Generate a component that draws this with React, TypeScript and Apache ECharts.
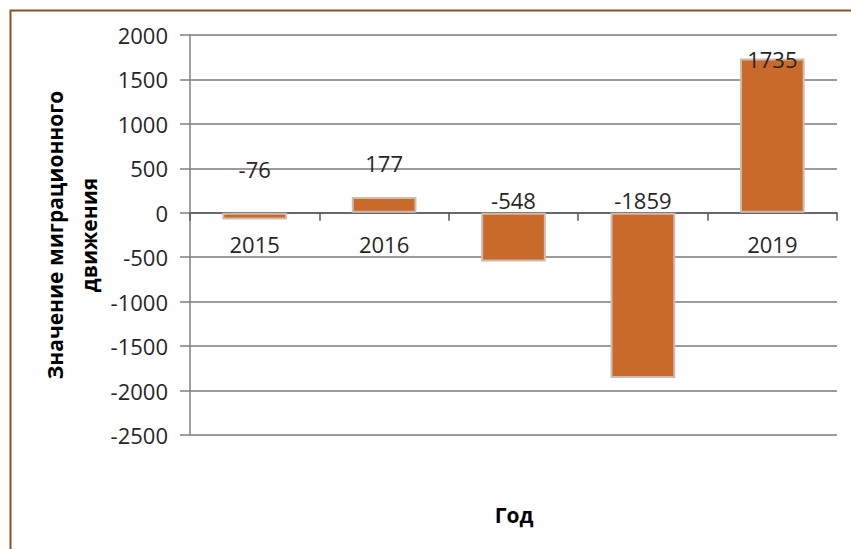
import React, { useEffect, useRef } from "react";
import * as echarts from "echarts";

const years = ["2015", "2016", "2017", "2018", "2019"];
const migration = [-76, 177, -548, -1859, 1735];
const yMin = -2500;
const yMax = 2000;
const yStep = 500;

const yTitle = "Значение миграционного\nдвижения";
const xTitle = "Год";

// label vertical nudges (style only)
const labelOffsets = [-28, -18, 3, 3, 16];

const FONT = "'Open Sans', 'Noto Sans', 'Liberation Sans', sans-serif";
const TEXT = "#262626";

const GRID_TOP = 35;
const GRID_BOTTOM = 114;
const PLOT_H = 549 - GRID_TOP - GRID_BOTTOM;
// distance from the plot bottom up to the value 0 on the y scale
const zeroLift = (PLOT_H * (0 - yMin)) / (yMax - yMin);

export default function App() {
  const ref = useRef<HTMLDivElement>(null);
  useEffect(() => {
    if (!ref.current) return;
    const chart = echarts.init(ref.current, undefined, { renderer: "svg" });
    chart.setOption({
      animation: false,
      backgroundColor: "#ffffff",
      grid: { left: 190, top: GRID_TOP, right: 14, bottom: GRID_BOTTOM, containLabel: false },
      xAxis: {
        type: "category",
        data: years,
        offset: -zeroLift,
        axisLine: { onZero: false, lineStyle: { color: "#595959", width: 1.5 } },
        axisTick: { show: true, alignWithLabel: false, length: 8, lineStyle: { color: "#595959", width: 1.5 } },
        axisLabel: { interval: 0, margin: 20, fontSize: 22, color: TEXT, fontFamily: FONT },
        splitLine: { show: false },
        z: 0,
      },
      yAxis: {
        type: "value",
        min: yMin,
        max: yMax,
        interval: yStep,
        axisLine: { show: true, lineStyle: { color: "#808080", width: 1.5 } },
        axisTick: { show: true, length: 10, lineStyle: { color: "#808080", width: 1.5 } },
        axisLabel: {
          margin: 22,
          fontSize: 22,
          color: TEXT,
          fontFamily: FONT,
          formatter: (v: number) => String(v),
        },
        splitLine: { show: true, lineStyle: { color: "#7a7a7a", width: 1.6 } },
        z: 0,
      },
      series: [
        {
          type: "bar",
          z: 2,
          barWidth: "50%",
          data: migration.map((v, i) => ({
            value: v,
            label: { offset: [0, labelOffsets[i]] },
          })),
          itemStyle: { color: "#C9692A", borderColor: "#cdbdb1", borderWidth: 2 },
          label: {
            show: true,
            position: "top",
            distance: 5,
            fontSize: 22,
            color: TEXT,
            fontFamily: FONT,
          },
        },
      ],
      graphic: [
        {
          type: "rect",
          shape: { x: 10.5, y: 10.5, width: 900, height: 600 },
          style: { fill: "none", stroke: "#8f4f25", lineWidth: 2 },
          silent: true,
        },
        {
          type: "text",
          x: 72,
          y: 235,
          rotation: Math.PI / 2,
          style: {
            text: yTitle,
            font: `bold 21px ${FONT}`,
            fill: "#000",
            align: "center",
            verticalAlign: "middle",
            lineHeight: 34,
          },
        },
        {
          type: "text",
          x: 514,
          y: 515,
          style: {
            text: xTitle,
            font: `bold 21px ${FONT}`,
            fill: "#000",
            align: "center",
            verticalAlign: "middle",
          },
        },
      ],
    });
    return () => chart.dispose();
  }, []);
  return (
    <div
      ref={ref}
      style={{ position: "absolute", left: 0, top: 0, width: 851, height: 549 }}
    />
  );
}
